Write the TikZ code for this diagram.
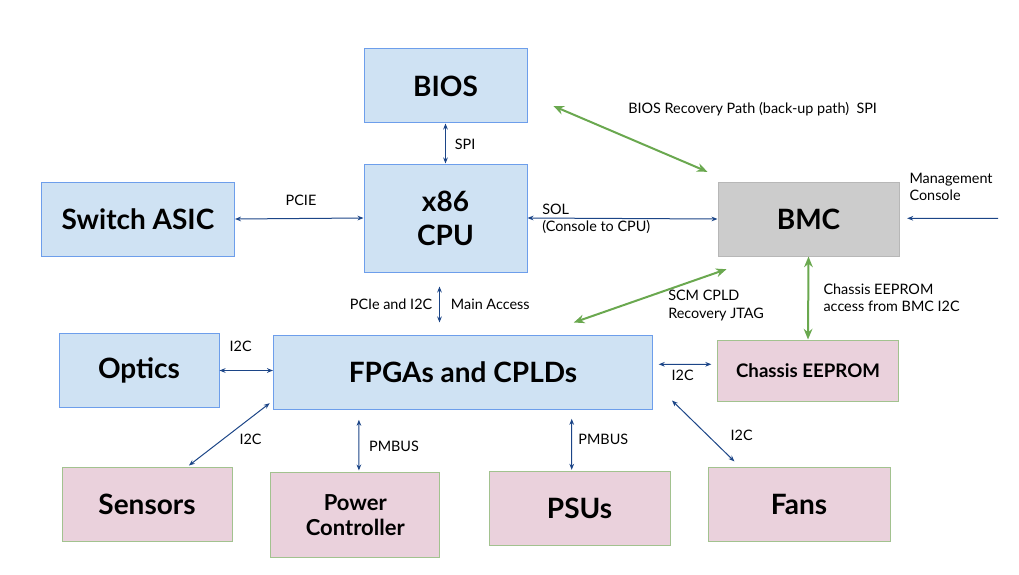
\documentclass[tikz,border=0pt]{standalone}
\usepackage{fontspec}
\setmainfont{Lato}
\usepackage{tikz}
\usetikzlibrary{
  arrows.meta
}
\definecolor{boxblue}{HTML}{CFE2F3}
\definecolor{lineblue}{HTML}{6D9EEB}
\definecolor{boxgray}{HTML}{CCCCCC}
\definecolor{linegray}{HTML}{B7B7B7}
\definecolor{boxpink}{HTML}{EAD1DC}
\definecolor{linesage}{HTML}{A2C28F}
\definecolor{busblue}{HTML}{1C4587}
\definecolor{busgreen}{HTML}{6AA84F}
\newcommand{\boxtxt}{\fontsize{21}{25.5}\selectfont\bfseries}
\newcommand{\lbltxt}{\fontsize{10.8}{12.9}\selectfont}

\begin{document}
\begin{tikzpicture}[x=0.75pt,y=-0.75pt,
  bluebox/.style={draw=lineblue, fill=boxblue, line width=0.75pt, align=center, font=\boxtxt},
  graybox/.style={draw=linegray, fill=boxgray, line width=0.75pt, align=center, font=\boxtxt},
  pinkbox/.style={draw=linesage, fill=boxpink, line width=0.75pt, align=center, font=\boxtxt},
  lbl/.style={font=\lbltxt, inner sep=0pt, align=left},
  bus/.style={busblue, line width=0.75pt, >={Stealth[length=4.5pt,width=3.5pt]}, <->},
  green/.style={busgreen, line width=1.5pt, >={Stealth[length=8pt,width=6.5pt]}, <->}]
\useasboundingbox (0,0) rectangle (1019,574);

% top half
\node [bluebox, minimum width=122.25pt, minimum height=55.5pt] (bios) at (445.5,86) {BIOS};
\node [bluebox, minimum width=122.25pt, minimum height=81pt] (cpu) at (445.5,218) {x86\\CPU};
\node [bluebox, minimum width=144.75pt, minimum height=55.5pt] (asic) at (138,219) {Switch ASIC};
\node [graybox, minimum width=135.75pt, minimum height=55.5pt] (bmc) at (808.5,219) {BMC};
\coordinate (mgmt) at (998,218.3);

% fpga row
\node [bluebox, minimum width=120pt, minimum height=55.5pt] (optics) at (139,370.5) {Optics};
\node [bluebox, minimum width=284.25pt, minimum height=55.5pt] (fpga) at (463,372.3) {FPGAs and CPLDs};
\node [pinkbox, minimum width=135.75pt, minimum height=45.75pt, font=\fontsize{14}{16}\selectfont\bfseries] (eeprom) at (808,370.5) {Chassis EEPROM};

% bottom row
\node [pinkbox, minimum width=127.5pt, minimum height=55.5pt] (sensors) at (147,504) {Sensors};
\node [pinkbox, minimum width=126.75pt, minimum height=63.75pt, font=\fontsize{16.5}{18.75}\selectfont\bfseries] (power) at (355.3,515) {Power\\Controller};
\node [pinkbox, minimum width=135.75pt, minimum height=55.5pt] (psus) at (579.5,508) {PSUs};
\node [pinkbox, minimum width=136.5pt, minimum height=55.5pt] (fans) at (799,504.5) {Fans};

\draw [bus] (bios.south) -- (cpu.north);
\draw [bus] (asic.east) -- (cpu.west);
\draw [bus] (cpu.east) -- (bmc.west);
\draw [bus, ->] (mgmt) -- ([shift={(7.7,-0.7)}]bmc.east);
\draw [bus] ([shift={(-6,14)}]cpu.south) -- ([shift={(-23.5,-12.3)}]fpga.north);
\draw [bus] (optics.east) -- (optics.east -| fpga.west);
\draw [bus] ([shift={(5.7,-8)}]fpga.east) -- ([shift={(-5.7,-6.2)}]eeprom.west);
\draw [bus] ([shift={(41.9,-1)}]sensors.north) -- ([shift={(-3.3,-6.6)}]fpga.south west);
\draw [bus] ([shift={(3.6,-1.5)}]power.north) -- ([shift={(-104.1,10)}]fpga.south);
\draw [bus] ([shift={(-7.8,-0.7)}]psus.north) -- ([shift={(108.7,9)}]fpga.south);
\draw [bus] ([shift={(-64.6,-5.6)}]fans.north) -- ([shift={(19,-9.3)}]fpga.south east);

\draw [green] ([shift={(25.8,20)}]bios.east) -- ([shift={(-10,-9.7)}]bmc.north west);
\draw [green] ([shift={(9,12.7)}]bmc.south west) -- ([shift={(-79.2,-12.3)}]fpga.north east);
\draw [green] (bmc.south) -- (eeprom.north);

\node [lbl, anchor=west] (spi) at (454.6,144) {SPI};
\node [lbl] (pcie) at (301,200) {PCIE};
\node [lbl, anchor=west] (sol) at (542,218.6) {SOL\\(Console to CPU)};
\node [lbl, anchor=west] (mgmtlbl) at (909.3,186.7) {Management\\Console};
\node [lbl, anchor=east] (pcieitwoc) at (432.5,304) {PCIe and I2C};
\node [lbl, anchor=west] (mainacc) at (450.7,304) {Main Access};
\node [lbl, anchor=west] (recov) at (628,109) {BIOS Recovery Path (back-up path)\ \ SPI};
\node [lbl, anchor=west] (jtag) at (668,305.5) {SCM CPLD\\Recovery JTAG};
\node [lbl, anchor=west] (eepromlbl) at (823.3,297.7) {Chassis EEPROM\\access from BMC I2C};
\node [lbl] (itwoc1) at (682.7,375.7) {I2C};
\node [lbl] (itwoc2) at (240.7,346) {I2C};
\node [lbl] (itwoc3) at (250.5,439) {I2C};
\node [lbl] (pmbus1) at (394,446) {PMBUS};
\node [lbl] (pmbus2) at (603.3,439.5) {PMBUS};
\node [lbl] (itwoc4) at (741.7,435) {I2C};
\end{tikzpicture}
\end{document}
